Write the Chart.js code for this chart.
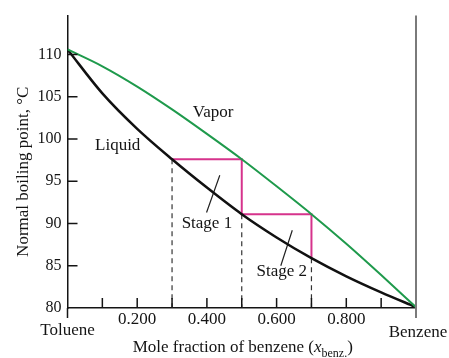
<!DOCTYPE html>
<html>
<head>
<meta charset="utf-8">
<script src="https://cdn.jsdelivr.net/npm/chart.js@4/dist/chart.umd.min.js"></script>
<style>
  html, body { margin: 0; padding: 0; background: #fff; }
</style>
</head>
<body>
<canvas id="myChart" width="449" height="358"></canvas>
<script>
  // mole fraction of benzene and boiling temperatures
  const xFrac = [0, 0.1, 0.2, 0.3, 0.4, 0.5, 0.6, 0.7, 0.8, 0.9, 1.0];
  const liquidT = [110.6, 105.4, 101.2, 97.6, 94.25, 91.1, 88.35, 85.9, 83.75, 81.85, 80.1];
  const vaporT = [110.6, 108.6, 106.2, 103.5, 100.6, 97.6, 94.4, 91.1, 87.6, 83.9, 80.1];

  // distillation stages (staircase between the curves)
  const stageX = [0.3, 0.5, 0.5, 0.7, 0.7];
  const stageT = [97.6, 97.6, 91.1, 91.1, 85.9];

  // dashed drops from the liquid curve to the axis
  const dropX = [0.3, 0.5, 0.7];
  const dropT = [97.6, 91.1, 85.9];

  // leader lines of the stage labels
  const leader1 = [[0.399, 91.3], [0.437, 95.7]];
  const leader2 = [[0.612, 85.0], [0.645, 89.2]];

  const yTicks = [80, 85, 90, 95, 100, 105, 110];
  const xTicks = [0, 0.1, 0.2, 0.3, 0.4, 0.5, 0.6, 0.7, 0.8, 0.9, 1.0];
  const xLabelled = [0.2, 0.4, 0.6, 0.8];

  const serif = '"Liberation Serif", "DejaVu Serif", serif';
  const ink = '#141414';

  const toPts = (xs, ys) => xs.map((v, i) => ({x: v, y: ys[i]}));

  const drops = [];
  dropX.forEach((v, i) => {
    drops.push({x: v, y: dropT[i]}, {x: v, y: 80}, {x: v, y: null});
  });

  const leaders = [
    {x: leader1[0][0], y: leader1[0][1]}, {x: leader1[1][0], y: leader1[1][1]}, {x: 0.5, y: null},
    {x: leader2[0][0], y: leader2[0][1]}, {x: leader2[1][0], y: leader2[1][1]}
  ];

  const decor = {
    id: 'decor',
    afterDraw(chart) {
      const {ctx, scales: {x, y}} = chart;
      ctx.save();

      // inward tick marks
      ctx.strokeStyle = ink;
      ctx.lineWidth = 1.5;
      ctx.beginPath();
      yTicks.slice(1).forEach(v => {
        const py = y.getPixelForValue(v);
        ctx.moveTo(x.left, py);
        ctx.lineTo(x.left + 10, py);
      });
      xTicks.slice(1, -1).forEach(v => {
        const px = x.getPixelForValue(v);
        ctx.moveTo(px, y.bottom);
        ctx.lineTo(px, y.bottom - 10);
      });
      ctx.moveTo(x.getPixelForValue(0), y.bottom);
      ctx.lineTo(x.getPixelForValue(0), y.bottom + 10);
      ctx.stroke();

      // benzene side line
      ctx.strokeStyle = '#7a7a7a';
      ctx.lineWidth = 2;
      ctx.beginPath();
      ctx.moveTo(x.getPixelForValue(1), y.top);
      ctx.lineTo(x.getPixelForValue(1), y.bottom + 10);
      ctx.stroke();

      // labels inside the plot
      ctx.fillStyle = ink;
      ctx.font = '17px ' + serif;
      ctx.textAlign = 'center';
      ctx.textBaseline = 'alphabetic';
      ctx.fillText('Vapor', x.getPixelForValue(0.418), y.getPixelForValue(102.66));
      ctx.fillText('Liquid', x.getPixelForValue(0.144), y.getPixelForValue(98.67));
      ctx.fillText('Stage 1', x.getPixelForValue(0.400), y.getPixelForValue(89.48));
      ctx.fillText('Stage 2', x.getPixelForValue(0.615), y.getPixelForValue(83.82));

      // end names
      ctx.fillText('Toluene', x.getPixelForValue(0), y.bottom + 26.5);
      ctx.fillText('Benzene', x.getPixelForValue(1) + 2, y.bottom + 29);

      // x title with subscript
      const parts = [
        {t: 'Mole fraction of benzene (', f: '17px ' + serif, dy: 0},
        {t: 'x', f: 'italic 17px ' + serif, dy: 0},
        {t: 'benz.', f: '12px ' + serif, dy: 5},
        {t: ')', f: '17px ' + serif, dy: 0}
      ];
      let total = 0;
      parts.forEach(p => { ctx.font = p.f; p.w = ctx.measureText(p.t).width; total += p.w; });
      let cx = (x.left + x.right) / 2 - total / 2 + 1;
      const base = y.bottom + 44;
      ctx.textAlign = 'left';
      parts.forEach(p => {
        ctx.font = p.f;
        ctx.fillText(p.t, cx, base + p.dy);
        cx += p.w;
      });

      // y title
      ctx.translate(27.5, (y.top + y.bottom) / 2 + 10);
      ctx.rotate(-Math.PI / 2);
      ctx.textAlign = 'center';
      ctx.font = '17px ' + serif;
      ctx.fillText('Normal boiling point, \u00B0C', 0, 0);

      ctx.restore();
    }
  };

  const data = {
    datasets: [
      {
        label: 'Vapor',
        data: toPts(xFrac, vaporT),
        borderColor: '#1f9a4c',
        borderWidth: 2,
        cubicInterpolationMode: 'monotone',
        pointRadius: 0,
        order: 1
      },
      {
        label: 'Liquid',
        data: toPts(xFrac, liquidT),
        borderColor: '#111111',
        borderWidth: 2.5,
        cubicInterpolationMode: 'monotone',
        pointRadius: 0,
        order: 2
      },
      {
        label: 'Stages',
        data: toPts(stageX, stageT),
        borderColor: '#d6338c',
        borderWidth: 2,
        tension: 0,
        pointRadius: 0,
        order: 3
      },
      {
        label: 'Drops',
        data: drops,
        borderColor: '#333333',
        borderWidth: 1.2,
        borderDash: [5, 4],
        tension: 0,
        spanGaps: false,
        pointRadius: 0,
        order: 4
      },
      {
        label: 'Leaders',
        data: leaders,
        borderColor: '#222222',
        borderWidth: 1.2,
        tension: 0,
        spanGaps: false,
        pointRadius: 0,
        order: 5
      }
    ]
  };

  const config = {
    type: 'line',
    data: data,
    plugins: [decor],
    options: {
      responsive: false,
      animation: false,
      layout: {padding: {left: 0, right: 33, top: 9, bottom: 0}},
      plugins: {legend: {display: false}, tooltip: {enabled: false}},
      scales: {
        x: {
          type: 'linear',
          min: 0,
          max: 1,
          afterBuildTicks: s => { s.ticks = xTicks.map(v => ({value: v})); },
          afterFit: s => { s.height = 50; },
          grid: {display: false, drawTicks: false},
          border: {color: ink, width: 1.5},
          ticks: {
            autoSkip: false,
            maxRotation: 0,
            padding: 1,
            color: ink,
            font: {family: serif, size: 17},
            callback: v => xLabelled.includes(v) ? v.toFixed(3) : ''
          }
        },
        y: {
          min: 80,
          max: 114.6,
          afterBuildTicks: s => { s.ticks = yTicks.map(v => ({value: v})); },
          afterFit: s => { s.width = 67.5; },
          grid: {display: false, drawTicks: false},
          border: {color: ink, width: 1.5},
          ticks: {
            padding: 6,
            color: ink,
            font: {family: serif, size: 16},
            callback: v => String(v)
          }
        }
      }
    }
  };

  const myChart = new Chart(document.getElementById('myChart'), config);
</script>
</body>
</html>
